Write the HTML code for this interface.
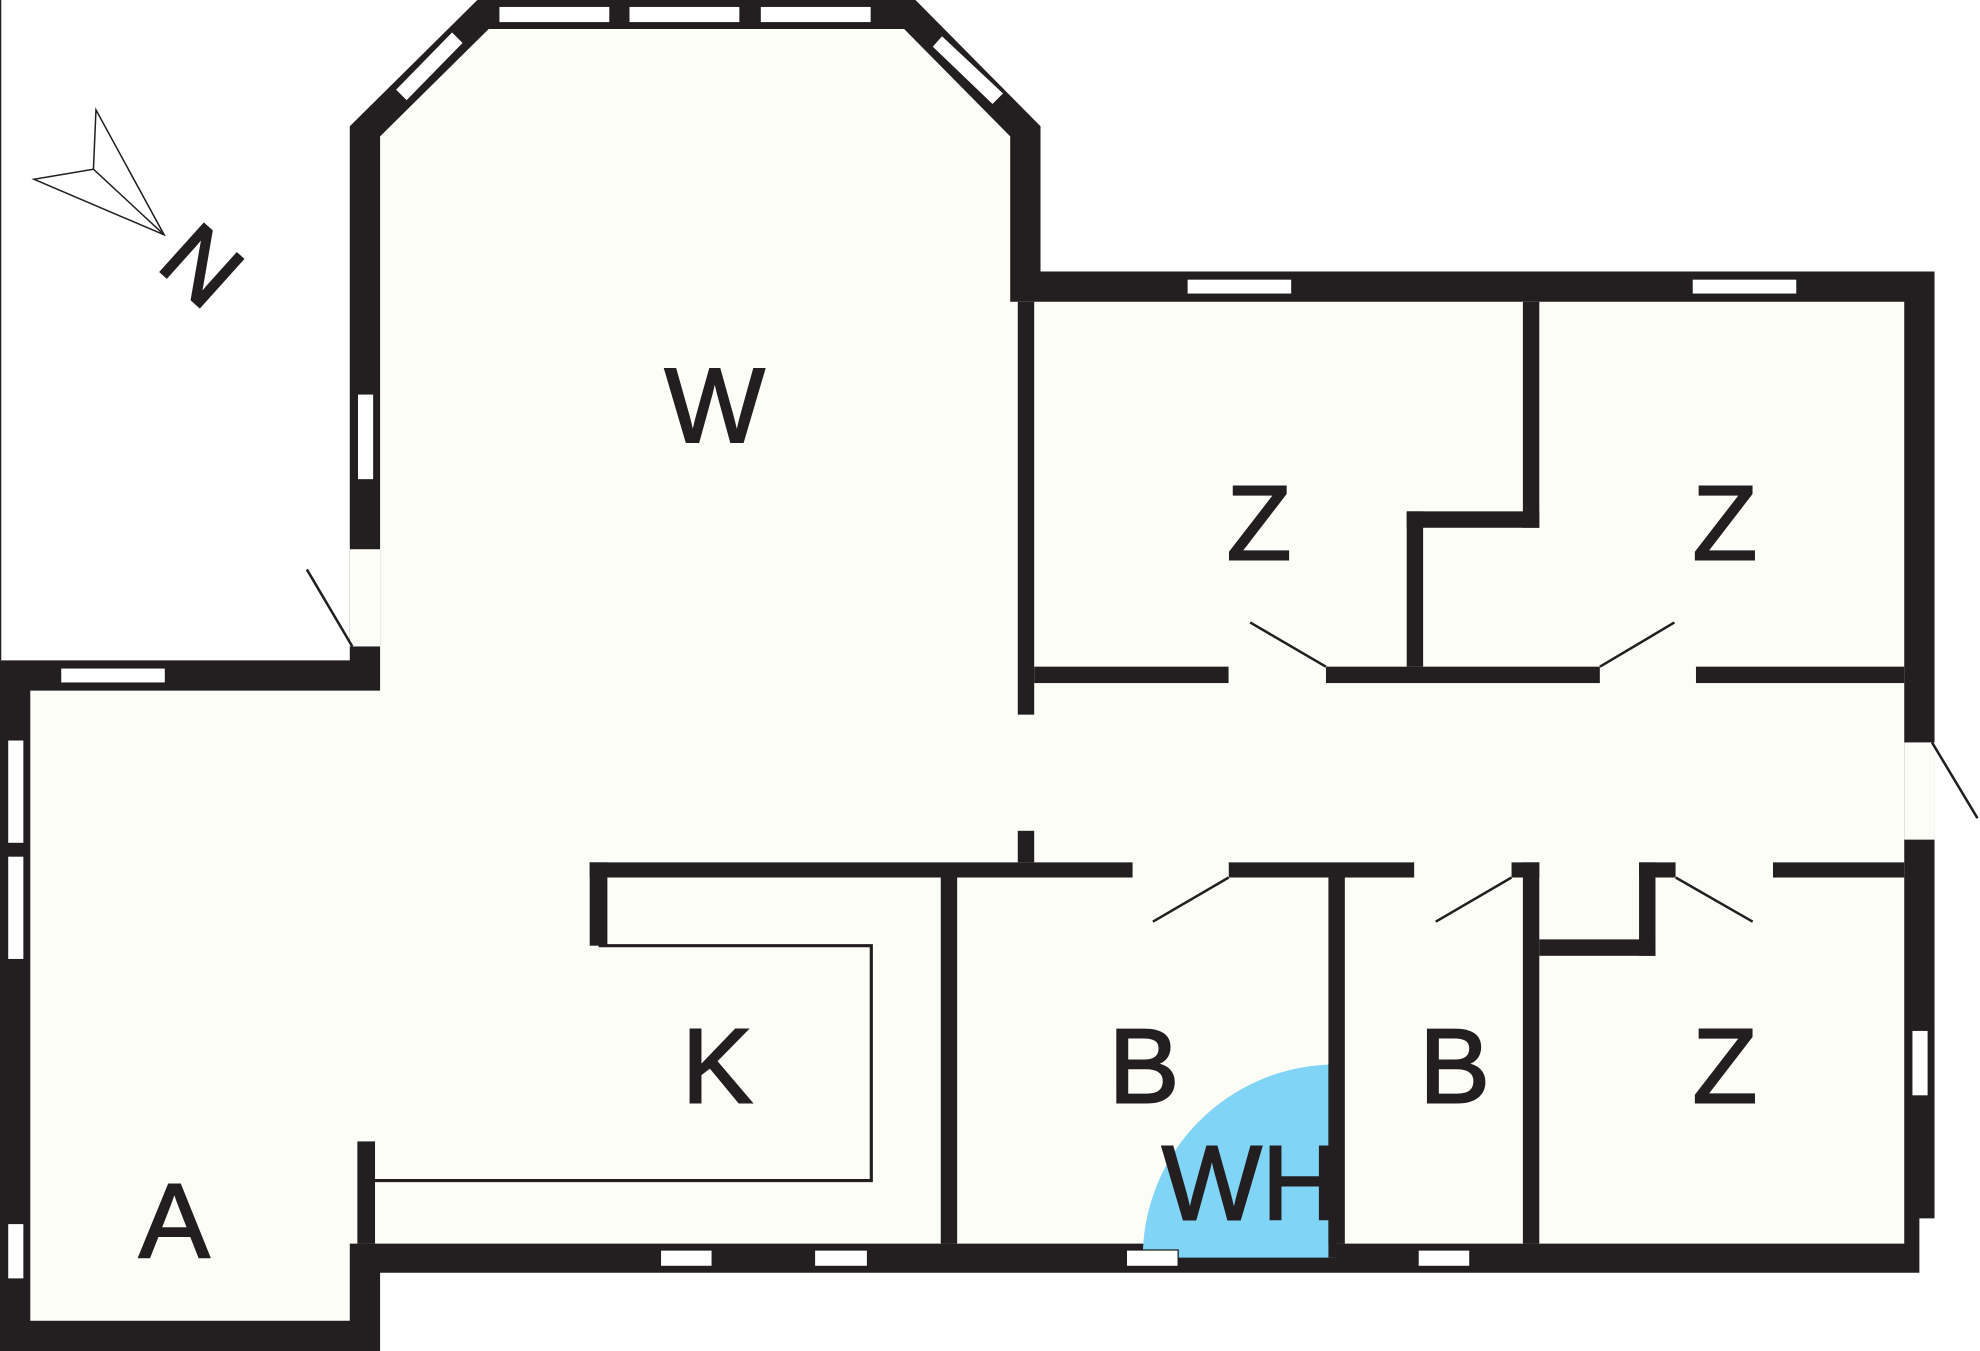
<!DOCTYPE html>
<html><head><meta charset="utf-8"><style>html,body{margin:0;padding:0;background:#fff}svg{display:block}</style></head>
<body>
<svg width="1980" height="1351" viewBox="0 0 1568 1070" preserveAspectRatio="none" xmlns="http://www.w3.org/2000/svg">
<rect width="1568" height="1070" fill="#fff"/>
<line x1="0.5" y1="0" x2="0.5" y2="523" stroke="#231f20" stroke-width="1"/>
<polygon fill="#231f20" points="0,523 277,523 277,100 378,0 725,0 824,100 824,215 1532,215 1532,965 1520,965 1520,1008 301,1008 301,1070 0,1070"/>
<polygon fill="#fdfdf8" points="24,547 301,547 301,108 387,23 716,23 800,108 800,239 1508,239 1508,985 277,985 277,1046 24,1046"/>
<g fill="#231f20">
<rect x="806" y="239" width="13" height="327"/>
<rect x="806" y="658" width="13" height="25"/>
<rect x="819" y="528" width="154" height="13"/>
<rect x="1050" y="528" width="217" height="13"/>
<rect x="1343" y="528" width="165" height="13"/>
<rect x="1206" y="239" width="13" height="179"/>
<rect x="1114" y="405" width="105" height="13"/>
<rect x="1114" y="405" width="13" height="123"/>
<rect x="467" y="683" width="430" height="12"/>
<rect x="973" y="683" width="147" height="12"/>
<rect x="1197" y="683" width="22" height="12"/>
<rect x="1298" y="683" width="29" height="12"/>
<rect x="1404" y="683" width="104" height="12"/>
<rect x="467" y="683" width="14" height="66"/>
<rect x="283" y="904" width="14" height="81"/>
<rect x="745" y="695" width="13" height="290"/>
<rect x="1206" y="683" width="13" height="302"/>
<rect x="1219" y="744" width="92" height="13"/>
<rect x="1298" y="683" width="13" height="74"/>
</g>
<polyline points="297,935 690,935 690,749 474,749" fill="none" stroke="#231f20" stroke-width="2.5"/>
<path d="M1058,996 L905,996 A153,153 0 0 1 1058,843 Z" fill="#80d4f6"/>
<rect x="1052" y="695" width="13" height="290" fill="#231f20"/>
<rect x="1052" y="843" width="6" height="153" fill="#231f20"/>
<g fill="#fff" stroke="#231f20" stroke-width="1">
<rect x="395" y="5" width="88" height="13"/><rect x="498" y="5" width="88" height="13"/><rect x="602" y="5" width="88" height="13"/>
<rect x="940" y="221" width="83" height="12"/><rect x="1340" y="221" width="83" height="12"/>
<rect x="283" y="312" width="13" height="68"/>
<rect x="48" y="529" width="83" height="12"/>
<rect x="6" y="586" width="13" height="82"/><rect x="6" y="678" width="13" height="82"/><rect x="6" y="969" width="13" height="44"/>
<rect x="523" y="990" width="41" height="13"/><rect x="645" y="990" width="42" height="13"/><rect x="892" y="990" width="41" height="13"/><rect x="1123" y="990" width="41" height="13"/>
<rect x="1514" y="816" width="13" height="52"/>
<polygon points="358,25 367,34 322,80 313,71"/>
<polygon points="746,28 738,37 786,83 795,74"/>
</g>
<g fill="#fdfdf8">
<rect x="277" y="435" width="24" height="77"/>
<rect x="1508" y="588" width="24" height="77"/>
<rect x="897" y="683" width="76" height="12"/><rect x="1120" y="683" width="77" height="12"/><rect x="1327" y="683" width="77" height="12"/>
<rect x="973" y="528" width="77" height="13"/><rect x="1267" y="528" width="76" height="13"/>
</g>
<g stroke="#231f20" stroke-width="2" fill="none">
<line x1="279" y1="512" x2="243" y2="451"/>
<line x1="1530" y1="588" x2="1566" y2="648"/>
<line x1="1050" y1="528" x2="990" y2="493"/>
<line x1="1267" y1="528" x2="1326" y2="493"/>
<line x1="973" y1="695" x2="913" y2="730"/>
<line x1="1197" y1="695" x2="1137" y2="730"/>
<line x1="1327" y1="695" x2="1388" y2="730"/>
</g>
<g stroke="#231f20" stroke-width="1.2" fill="none">
<polygon points="27,142 74,134 76,87 130,186"/>
<line x1="74" y1="134" x2="130" y2="186"/>
</g>
<text x="0" y="0" transform="translate(160,210) rotate(42)" text-anchor="middle" dominant-baseline="central" font-family="Liberation Sans, sans-serif" font-size="74" fill="#231f20" stroke="#231f20" stroke-width="2">N</text>
<g font-family="Liberation Sans, sans-serif" font-size="84" fill="#231f20" stroke="#231f20" stroke-width="1.6" text-anchor="middle">
<text x="566" y="350">W</text>
<text x="997" y="443">Z</text>
<text x="1366" y="443">Z</text>
<text x="568" y="873">K</text>
<text x="906" y="873">B</text>
<text x="1152" y="873">B</text>
<text x="1366" y="873">Z</text>
<text x="138" y="996">A</text>
<text x="990" y="966">WH</text>
</g>
</svg>
</body></html>
